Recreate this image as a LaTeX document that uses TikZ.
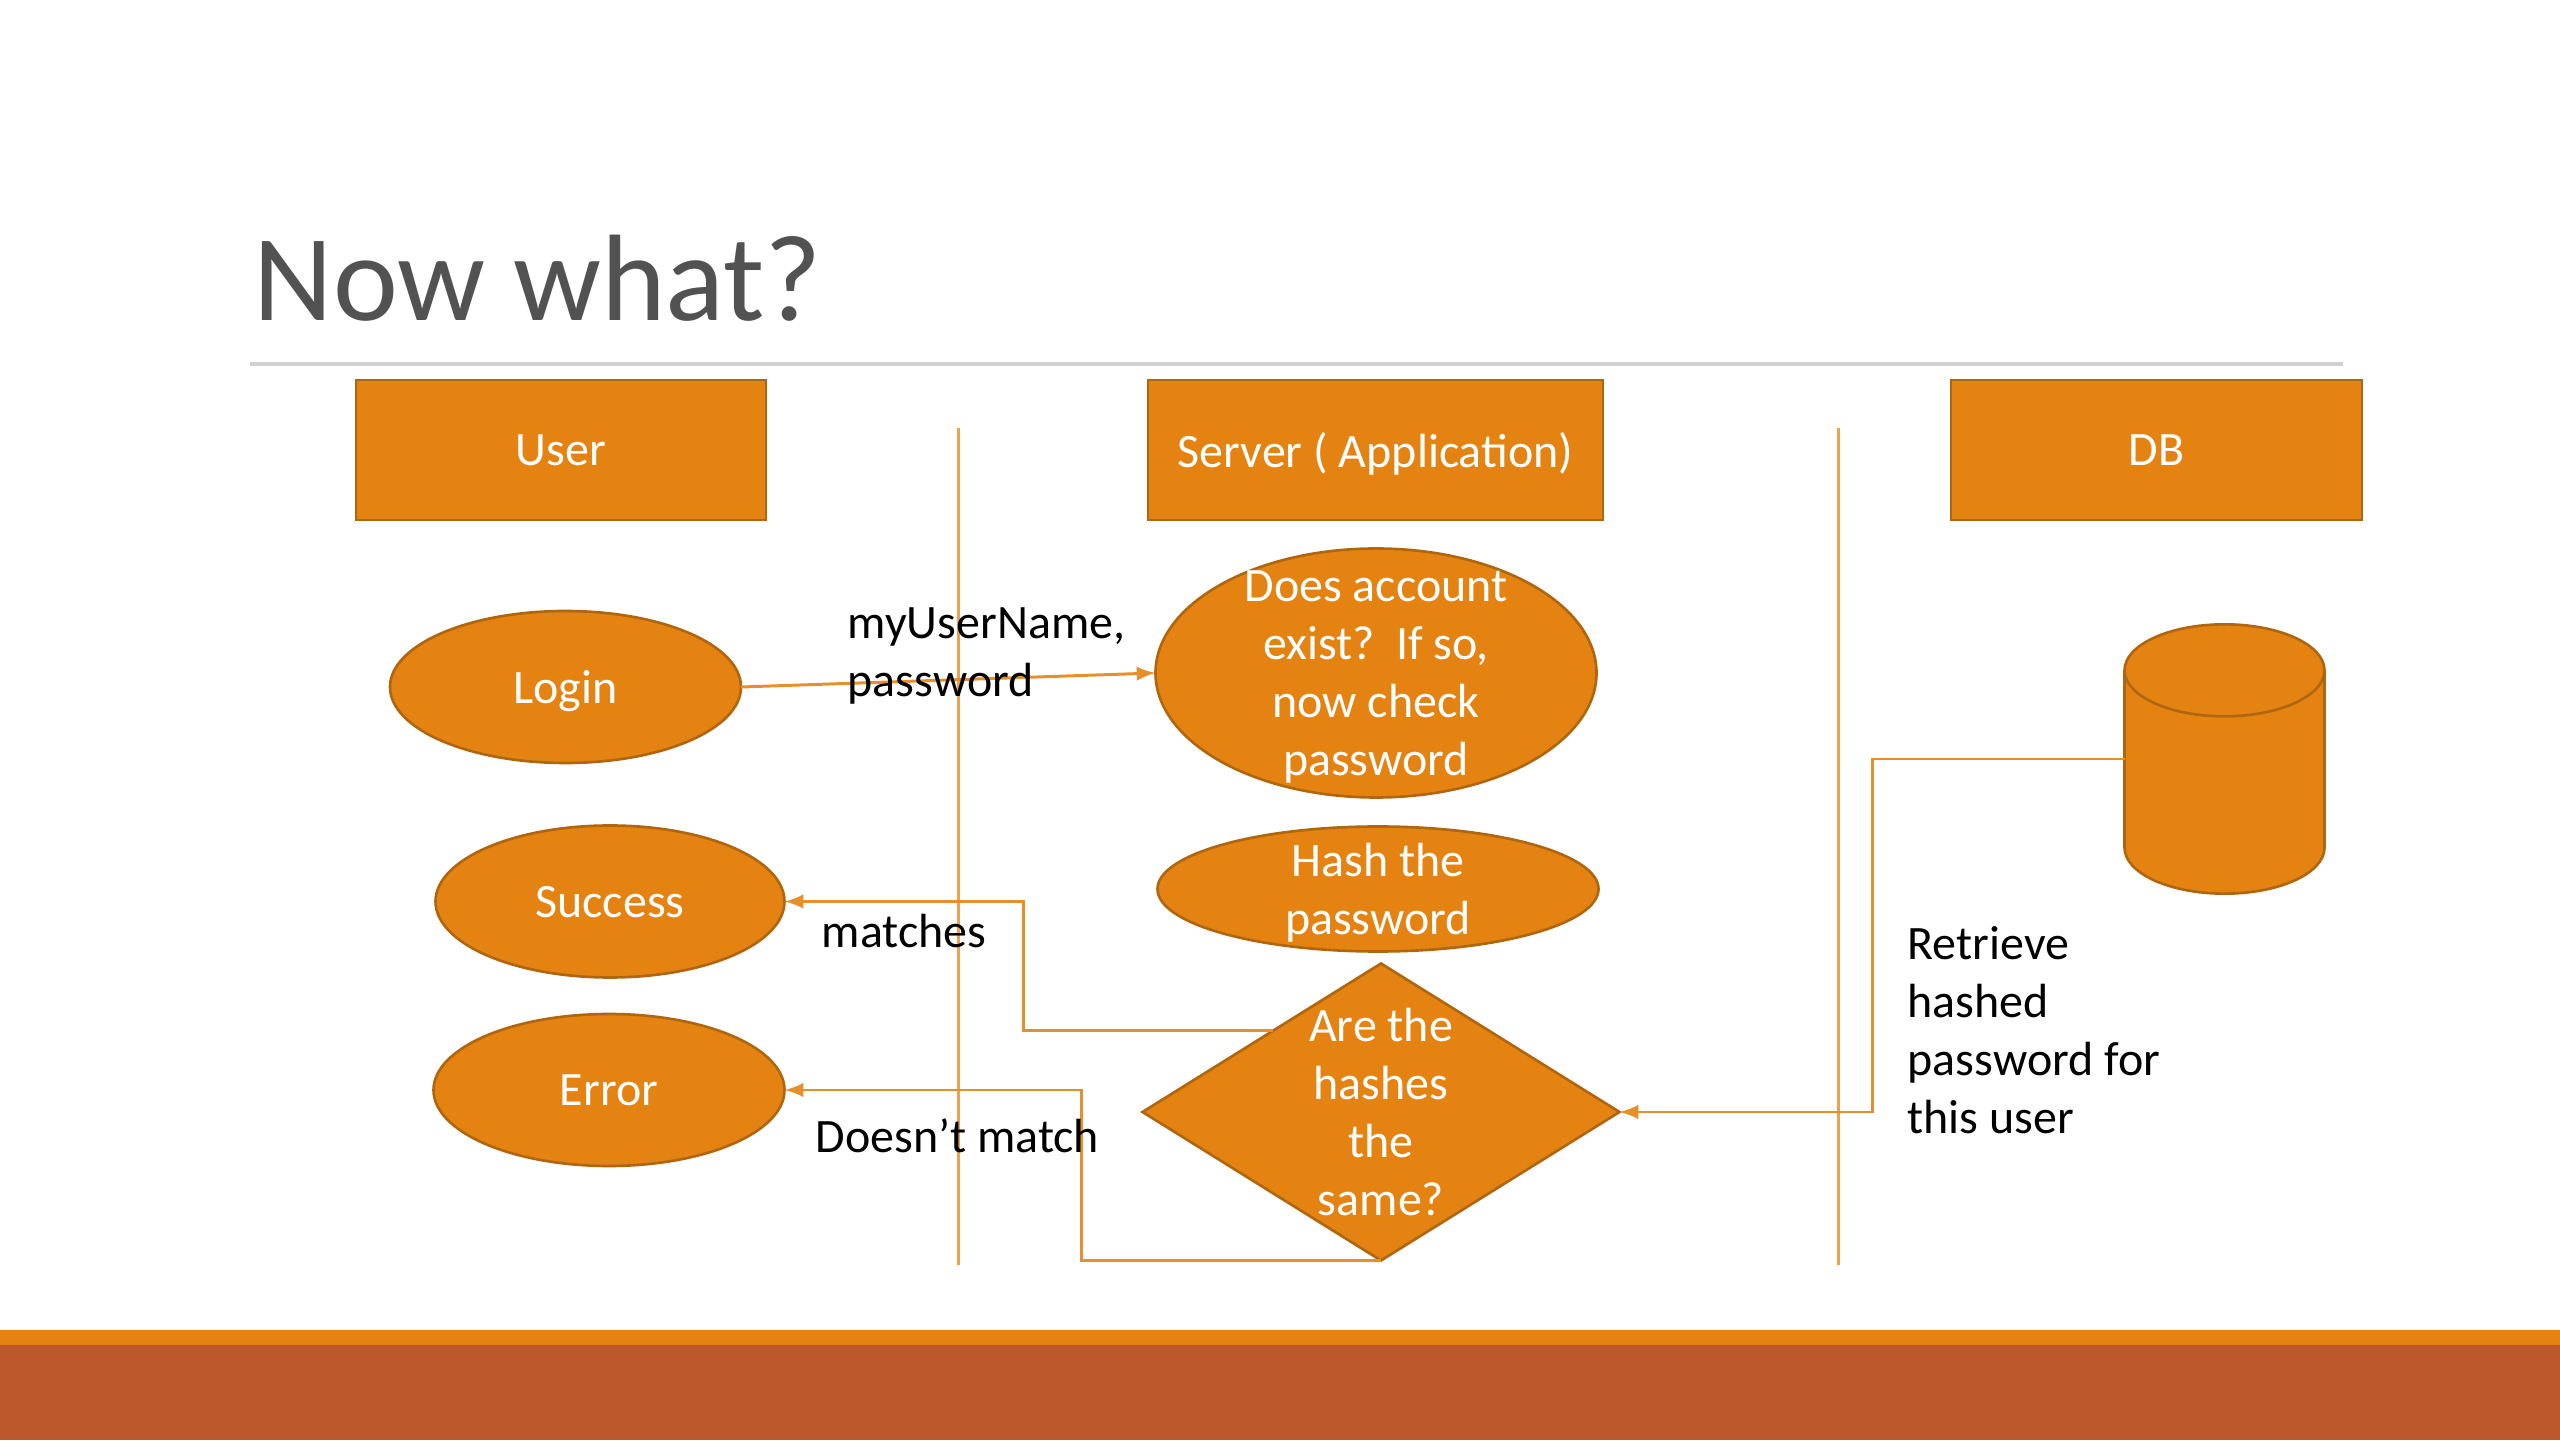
\documentclass[tikz,border=0pt]{standalone}
\usepackage{fontspec}
\setmainfont{Carlito}
\usepackage{xcolor}
\usetikzlibrary{shapes.geometric, positioning, calc}
\definecolor{accent}{HTML}{E48312}
\definecolor{edgecol}{HTML}{B0660E}
\definecolor{bandcol}{HTML}{BD582C}
\definecolor{linecol}{HTML}{EBA252}

\begin{document}
\begin{tikzpicture}[
    >=latex,
    bodyfont/.style={font=\fontsize{13.65}{16.5}\selectfont},
    shapebase/.style={draw=edgecol, line width=0.75pt, fill=accent, text=white, align=center, bodyfont, text depth=0pt, outer sep=0pt},
    actor/.style={shapebase, rectangle, minimum height=1.4cm, inner sep=0pt},
    blob/.style={shapebase, ellipse, inner sep=-1cm},
    check/.style={shapebase, diamond, inner sep=-1cm},
    store/.style={shapebase, cylinder, shape border rotate=90, aspect=0.46, inner xsep=1cm, inner ysep=0.88cm},
    flow/.style={->, accent!90!white, line width=0.85pt},
    divider/.style={linecol, line width=0.85pt},
    note/.style={align=left, anchor=west, inner sep=0pt, bodyfont, text=black}
]
    \useasboundingbox (0,0) rectangle (25.6,14.4);
    % --- 1. Slide frame ---
    \fill[accent] (0,0.95) rectangle (25.6,1.10);
    \fill[bandcol] (0,0) rectangle (25.6,0.95);
    \node (title) [anchor=west, inner sep=0pt, text=black!68, font=\fontsize{35}{40}\selectfont] at (2.53,11.62) {Now what?};
    \draw[black!18, line width=1pt] (2.50,10.76) -- (23.43,10.76);
    % --- 2. Column dividers ---
    \coordinate (divone_top) at (9.58,10.12);
    \coordinate (divone_bottom) at (9.58,1.75);
    \coordinate (divtwo_top) at (18.38,10.12);
    \coordinate (divtwo_bottom) at (18.38,1.75);
    \draw[divider] (divone_top) -- (divone_bottom);
    \draw[divider] (divtwo_top) -- (divtwo_bottom);
    % --- 3. Column headers (top row) ---
    \node (user) [actor, minimum width=4.10cm] at (5.61,9.90) {User};
    \node (server) [actor, minimum width=4.55cm] at (13.755,9.90) {Server ( Application)};
    \node (db) [actor, minimum width=4.11cm] at (21.565,9.90) {DB};
    % --- 4. Steps ---
    \node (login) [blob, minimum width=3.51cm, minimum height=1.52cm] at (5.655,7.53) {Login};
    \node (success) [blob, minimum width=3.49cm, minimum height=1.52cm] at (6.10,5.385) {Success};
    \node (error) [blob, minimum width=3.51cm, minimum height=1.52cm] at (6.09,3.50) {Error};
    \node (account) [blob, minimum width=4.41cm, minimum height=2.49cm] at (13.76,7.67) {Does account\\exist?\ \ If so,\\now check\\password};
    \node (hash) [blob, minimum width=4.41cm, minimum height=1.25cm] at (13.78,5.51) {Hash the\\password};
    \node (compare) [check, minimum width=4.77cm, minimum height=2.97cm] at (13.81,3.28) {Are the\\hashes\\the\\same?};
    \node (storage) [store, anchor=shape center] at (22.245,6.81) {};
    % --- 5. Connectors ---
    \coordinate (matches_bend) at (10.23,5.385);
    \coordinate (nomatch_bend) at (10.81,3.50);
    \coordinate (fetch_bend) at (18.72,6.81);
    \draw[flow] (login.east) -- (account.west);
    \draw[flow] (compare.143) -| (matches_bend) -- (success.east);
    \draw[flow] (compare.south) -| (nomatch_bend) -- (error.east);
    \draw[flow] (storage.shape center -| storage.west) -- (fetch_bend) |- (compare.east);
    % --- 6. Labels ---
    \node (credentials) [note] at (8.47,7.84) {myUserName,\\password};
    \node (matches) [note] at (8.21,5.09) {matches};
    \node (nomatch) [note] at (8.15,3.04) {Doesn’t match};
    \node (retrieve) [note] at (19.07,4.10) {Retrieve\\hashed\\password for\\this user};
\end{tikzpicture}
\end{document}
